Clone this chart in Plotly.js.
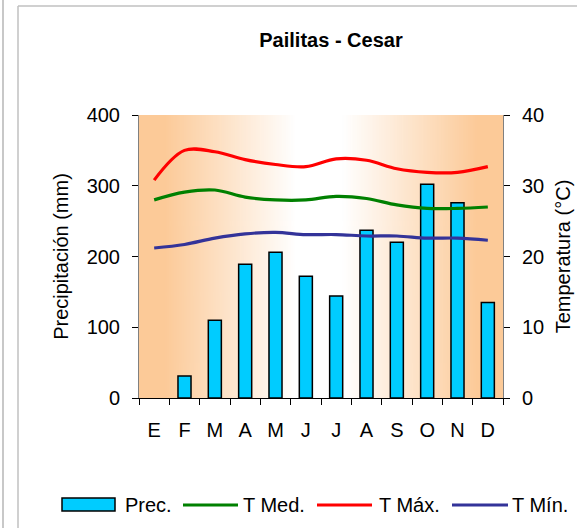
<!DOCTYPE html>
<html>
<head>
<meta charset="utf-8">
<script src="https://cdn.plot.ly/plotly-3.0.1.min.js"></script>
<style>
  html, body { margin: 0; padding: 0; background: #fff; }
  #chart { width: 577px; height: 528px; }
</style>
</head>
<body>
<div id="chart"></div>
<script>
// ---- data ----
const months = ['E', 'F', 'M', 'A', 'M', 'J', 'J', 'A', 'S', 'O', 'N', 'D'];
const precip = [0, 31, 110, 189, 206, 172, 144, 237, 220, 302, 276, 135];
const tMed = [28.0, 29.1, 29.4, 28.4, 28.0, 28.0, 28.5, 28.2, 27.3, 26.8, 26.8, 27.0];
const tMax = [30.8, 35.0, 34.8, 33.7, 33.0, 32.7, 33.8, 33.6, 32.4, 31.9, 31.9, 32.7];
const tMin = [21.2, 21.7, 22.6, 23.2, 23.4, 23.1, 23.1, 22.9, 22.9, 22.6, 22.6, 22.3];
const seriesNames = ['Prec.', 'T Med.', 'T Máx.', 'T Mín.'];
const chartTitle = 'Pailitas - Cesar';
const yTitle = 'Precipitación (mm)';
const y2Title = 'Temperatura (°C)';

// ---- styling ----
const FONT = 'Liberation Sans, Arial, sans-serif';
const colors = { prec: '#00CCFF', med: '#008000', max: '#FF0000', min: '#333399' };
const W = 577, H = 528;
const L = 139, R = 503, T = 115, B = 398;
const px2x = px => (px - L) / (R - L);
const py2y = py => (B - py) / (B - T);

const xIdx = months.map((_, i) => i + 1);
const boundaries = months.concat(['']).map((_, i) => i + 0.5);

// background gradient image
function gradientURL() {
  const c = document.createElement('canvas');
  c.width = 400; c.height = 4;
  const g = c.getContext('2d');
  const grd = g.createLinearGradient(0, 0, 400, 0);
  const org = '#FCCA98';
  grd.addColorStop(0, org);
  grd.addColorStop(0.07, org);
  grd.addColorStop(0.43, '#FFFFFF');
  grd.addColorStop(0.56, '#FFFFFF');
  grd.addColorStop(0.93, org);
  grd.addColorStop(1, org);
  g.fillStyle = grd;
  g.fillRect(0, 0, 400, 4);
  return c.toDataURL('image/png');
}

const traces = [
  { type: 'bar', x: xIdx, y: precip, name: seriesNames[0], width: 0.43,
    marker: { color: colors.prec, line: { color: '#000', width: precip.map(v => (v > 0 ? 1.5 : 0)) } },
    yaxis: 'y', showlegend: false },
  { type: 'scatter', mode: 'lines', x: xIdx, y: tMed, name: seriesNames[1], yaxis: 'y2',
    line: { color: colors.med, width: 3.2, shape: 'spline', smoothing: 1 }, showlegend: false },
  { type: 'scatter', mode: 'lines', x: xIdx, y: tMax, name: seriesNames[2], yaxis: 'y2',
    line: { color: colors.max, width: 3.2, shape: 'spline', smoothing: 1 }, showlegend: false },
  { type: 'scatter', mode: 'lines', x: xIdx, y: tMin, name: seriesNames[3], yaxis: 'y2',
    line: { color: colors.min, width: 3.2, shape: 'spline', smoothing: 1 }, showlegend: false }
];

// custom legend (shapes + annotations)
const legendY = py2y(505);
const legendItems = [
  { key: 'prec', sym: [62, 115], text: 123 },
  { key: 'med', sym: [183, 238], text: 241 },
  { key: 'max', sym: [317, 372], text: 377 },
  { key: 'min', sym: [452, 508], text: 510 }
];
const shapes = [
  // outer frame lines
  { type: 'line', xref: 'paper', yref: 'paper', x0: px2x(18), x1: px2x(18), y0: py2y(6), y1: py2y(H),
    line: { color: '#C0C0C0', width: 1.5 } },
  { type: 'line', xref: 'paper', yref: 'paper', x0: px2x(18), x1: px2x(W), y0: py2y(6), y1: py2y(6),
    line: { color: '#C0C0C0', width: 1.5 } },
  { type: 'line', xref: 'paper', yref: 'paper', x0: px2x(3), x1: px2x(3), y0: py2y(0), y1: py2y(H),
    line: { color: '#C8C8C8', width: 2 } }
];
const annotations = [];
legendItems.forEach((it, i) => {
  if (it.key === 'prec') {
    shapes.push({ type: 'rect', xref: 'paper', yref: 'paper',
      x0: px2x(it.sym[0]), x1: px2x(it.sym[1]), y0: py2y(511), y1: py2y(498),
      fillcolor: colors.prec, line: { color: '#000', width: 1.5 } });
  } else {
    shapes.push({ type: 'line', xref: 'paper', yref: 'paper',
      x0: px2x(it.sym[0]), x1: px2x(it.sym[1]), y0: legendY, y1: legendY,
      line: { color: colors[it.key], width: 3 } });
  }
  annotations.push({ xref: 'paper', yref: 'paper', x: px2x(it.text), y: legendY,
    xanchor: 'left', yanchor: 'middle', showarrow: false, text: seriesNames[i],
    font: { family: FONT, size: 20, color: '#000' } });
});

const layout = {
  width: W, height: H,
  margin: { l: L, r: W - R, t: T, b: H - B, pad: 0 },
  paper_bgcolor: '#FFFFFF',
  plot_bgcolor: 'rgba(0,0,0,0)',
  font: { family: FONT, size: 20, color: '#000' },
  title: { text: '<b>' + chartTitle + '</b>', xref: 'container', yref: 'container',
    x: 331 / W, y: 1 - 40 / H, xanchor: 'center', yanchor: 'middle',
    font: { family: FONT, size: 20, color: '#000' } },
  showlegend: false,
  bargap: 0,
  xaxis: {
    range: [0.5, 12.5], tickvals: xIdx, ticktext: months, ticks: '',
    showgrid: false, zeroline: false, showline: true, linecolor: '#000', linewidth: 1,
    tickfont: { family: FONT, size: 20, color: '#000' },
    ticklabelstandoff: 14,
    minor: { tickvals: boundaries, ticks: 'outside', ticklen: 6, tickcolor: '#000', tickwidth: 1, showgrid: false },
    fixedrange: true
  },
  yaxis: {
    range: [0, 400], dtick: 100, tick0: 0, ticks: 'outside', ticklen: 6, tickcolor: '#000',
    showgrid: false, zeroline: false, showline: true, linecolor: '#808080', linewidth: 1,
    tickfont: { family: FONT, size: 20, color: '#000' },
    ticklabelstandoff: 8,
    title: { text: yTitle, font: { family: FONT, size: 20, color: '#000' }, standoff: 12 }
  },
  yaxis2: {
    range: [0, 40], dtick: 10, tick0: 0, overlaying: 'y', side: 'right', anchor: 'x',
    ticks: 'outside', ticklen: 6, tickcolor: '#000',
    showgrid: false, zeroline: false, showline: true, linecolor: '#808080', linewidth: 1,
    tickfont: { family: FONT, size: 20, color: '#000' },
    ticklabelstandoff: 8,
    title: { text: y2Title, font: { family: FONT, size: 20, color: '#000' }, standoff: 12 }
  },
  yaxis3: {
    range: [0, 40], dtick: 10, tick0: 0, overlaying: 'y', side: 'right', anchor: 'x',
    ticks: 'inside', ticklen: 6, tickcolor: '#000', showticklabels: false,
    showgrid: false, zeroline: false, showline: false
  },
  images: [{ source: gradientURL(), xref: 'paper', yref: 'paper', x: 0, y: 1,
    sizex: 1, sizey: 1, xanchor: 'left', yanchor: 'top', sizing: 'stretch', layer: 'below' }],
  shapes: shapes,
  annotations: annotations
};

Plotly.newPlot('chart', traces, layout, { displayModeBar: false, staticPlot: true });
</script>
</body>
</html>
